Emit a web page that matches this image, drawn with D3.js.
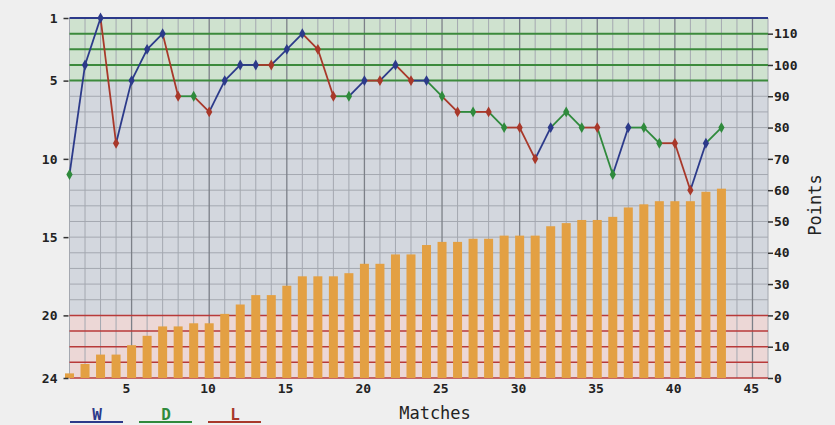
<!DOCTYPE html>
<html>
<head>
<meta charset="utf-8">
<script src="https://cdn.jsdelivr.net/npm/d3@7"></script>
<style>
  body { margin: 0; background: #efefef; }
  svg { display: block; }
  .tick text { font-family: "DejaVu Sans Mono", monospace; font-weight: bold; font-size: 13px; fill: #222; }
</style>
</head>
<body>
<div id="chart"></div>
<script>
// league position after each match
const positions = [11, 4, 1, 9, 5, 3, 2, 6, 6, 7, 5, 4, 4, 4, 3, 2, 3, 6, 6, 5, 5, 4, 5, 5, 6,
                   7, 7, 7, 8, 8, 10, 8, 7, 8, 8, 11, 8, 8, 9, 9, 12, 9, 8];
// result of each match
const results = ['D', 'W', 'W', 'L', 'W', 'W', 'W', 'L', 'D', 'L', 'W', 'W', 'W', 'L', 'W', 'W', 'L', 'L', 'D', 'W', 'L', 'W',
                 'L', 'W', 'D', 'L', 'D', 'L', 'D', 'L', 'L', 'W', 'D', 'D', 'L', 'D', 'W', 'D', 'D', 'L', 'L', 'W', 'D'];
// cumulative points
const points = [1, 4, 7, 7, 10, 13, 16, 16, 17, 17, 20, 23, 26, 26, 29, 32, 32, 32, 33, 36, 36, 39, 39, 42, 43,
                43, 44, 44, 45, 45, 45, 48, 49, 50, 50, 51, 54, 55, 56, 56, 56, 59, 60];

const positionTicks = [1, 5, 10, 15, 20, 24];
const pointTicks = [0, 10, 20, 30, 40, 50, 60, 70, 80, 90, 100, 110];
const matchTicks = [5, 10, 15, 20, 25, 30, 35, 40, 45];
const legendKeys = ['W', 'D', 'L'];

const resultColour = { W: '#2c3a8a', D: '#2f8a3c', L: '#a8382a' };

const width = 835, height = 425;
const plotLeft = 69.5, plotRight = 768, plotTop = 18, plotBottom = 378;

const x = d3.scaleLinear().domain([1, 46]).range([plotLeft, plotRight]);
const yPos = d3.scaleLinear().domain([1, 24]).range([plotTop, plotBottom]);
const yPts = d3.scaleLinear().domain([0, 115]).range([plotBottom, plotTop]);

const svg = d3.select('#chart').append('svg')
    .attr('width', width)
    .attr('height', height);

// background bands
const bands = [
    { from: 1, to: 5, fill: '#cfe2cf' },
    { from: 5, to: 20, fill: '#d3d7de' },
    { from: 20, to: 24, fill: '#ecd7d6' }
];
svg.append('g').selectAll('rect').data(bands).join('rect')
    .attr('x', plotLeft)
    .attr('width', plotRight - plotLeft)
    .attr('y', d => yPos(d.from))
    .attr('height', d => yPos(d.to) - yPos(d.from))
    .attr('fill', d => d.fill);

// grid
const grid = svg.append('g');
grid.selectAll('line.h').data(d3.range(6, 20)).join('line')
    .attr('class', 'h')
    .attr('x1', plotLeft).attr('x2', plotRight)
    .attr('y1', d => yPos(d)).attr('y2', d => yPos(d))
    .attr('stroke', '#a4a8b0').attr('stroke-width', 1);
grid.selectAll('line.v').data(d3.range(1, 47)).join('line')
    .attr('class', 'v')
    .attr('x1', d => x(d)).attr('x2', d => x(d))
    .attr('y1', plotTop).attr('y2', plotBottom)
    .attr('stroke', d => d % 5 === 0 ? '#7c8088' : '#a4a8b0')
    .attr('stroke-width', d => d % 5 === 0 ? 1.3 : 1);

// zone lines
grid.selectAll('line.g').data([2, 3, 4, 5]).join('line')
    .attr('class', 'g')
    .attr('x1', plotLeft).attr('x2', plotRight)
    .attr('y1', d => yPos(d)).attr('y2', d => yPos(d))
    .attr('stroke', '#3c8a3c').attr('stroke-width', 2);
grid.selectAll('line.r').data([20, 21, 22, 23, 24]).join('line')
    .attr('class', 'r')
    .attr('x1', plotLeft).attr('x2', plotRight)
    .attr('y1', d => yPos(d)).attr('y2', d => yPos(d))
    .attr('stroke', '#b83a3a').attr('stroke-width', 1.5);
grid.append('line')
    .attr('x1', plotLeft).attr('x2', plotRight)
    .attr('y1', yPos(1)).attr('y2', yPos(1))
    .attr('stroke', '#2c3a8a').attr('stroke-width', 2);

// points bars
svg.append('g').selectAll('rect').data(points).join('rect')
    .attr('x', (d, i) => x(i + 1) - 4.5)
    .attr('width', 9)
    .attr('y', d => yPts(d) - 1.5)
    .attr('height', d => plotBottom - yPts(d) + 1.5)
    .attr('fill', '#e3a043');

// position line, each segment coloured by the result of the match it leads to
const lineG = svg.append('g');
lineG.selectAll('line').data(positions.slice(1)).join('line')
    .attr('x1', (d, i) => x(i + 1)).attr('y1', (d, i) => yPos(positions[i]))
    .attr('x2', (d, i) => x(i + 2)).attr('y2', d => yPos(d))
    .attr('stroke', (d, i) => resultColour[results[i + 1]])
    .attr('stroke-width', 1.8);
lineG.selectAll('path').data(positions).join('path')
    .attr('d', d3.symbol(d3.symbolDiamond, 34))
    .attr('transform', (d, i) => 'translate(' + x(i + 1) + ',' + yPos(d) + ')')
    .attr('fill', (d, i) => resultColour[results[i]]);

// axes
const leftAxis = svg.append('g')
    .attr('transform', 'translate(' + (plotLeft - 1) + ',0)')
    .call(d3.axisLeft(yPos).tickValues(positionTicks).tickSize(5).tickPadding(6));
leftAxis.select('.domain').remove();
leftAxis.selectAll('.tick line').attr('stroke', '#333').attr('stroke-width', 1.5);

const rightAxis = svg.append('g')
    .attr('transform', 'translate(' + plotRight + ',0)')
    .call(d3.axisRight(yPts).tickValues(pointTicks).tickSize(5).tickPadding(1));
rightAxis.select('.domain').remove();
rightAxis.selectAll('.tick line').attr('stroke', '#333').attr('stroke-width', 1.5);

svg.append('g').selectAll('text').data(matchTicks).join('text')
    .attr('x', d => x(d) - 9)
    .attr('y', 393)
    .attr('font-family', 'DejaVu Sans Mono, monospace')
    .attr('font-weight', 'bold')
    .attr('font-size', 13)
    .attr('fill', '#222')
    .text(d => d);

svg.append('text')
    .attr('x', 435).attr('y', 419)
    .attr('text-anchor', 'middle')
    .attr('font-family', 'DejaVu Sans Mono, monospace')
    .attr('font-size', 17)
    .attr('fill', '#222')
    .text('Matches');

svg.append('text')
    .attr('transform', 'translate(821,205) rotate(-90)')
    .attr('text-anchor', 'middle')
    .attr('font-family', 'DejaVu Sans Mono, monospace')
    .attr('font-size', 17)
    .attr('fill', '#222')
    .text('Points');

// legend
const legend = svg.append('g').selectAll('g').data(legendKeys).join('g')
    .attr('transform', (d, i) => 'translate(' + (70 + i * 69) + ',0)');
legend.append('line')
    .attr('x1', 0).attr('x2', 53)
    .attr('y1', 422).attr('y2', 422)
    .attr('stroke', d => resultColour[d]).attr('stroke-width', 2);
legend.append('text')
    .attr('x', 27).attr('y', 420)
    .attr('text-anchor', 'middle')
    .attr('font-family', 'DejaVu Sans Mono, monospace')
    .attr('font-weight', 'bold')
    .attr('font-size', 16)
    .attr('fill', d => resultColour[d])
    .text(d => d);
</script>
</body>
</html>
